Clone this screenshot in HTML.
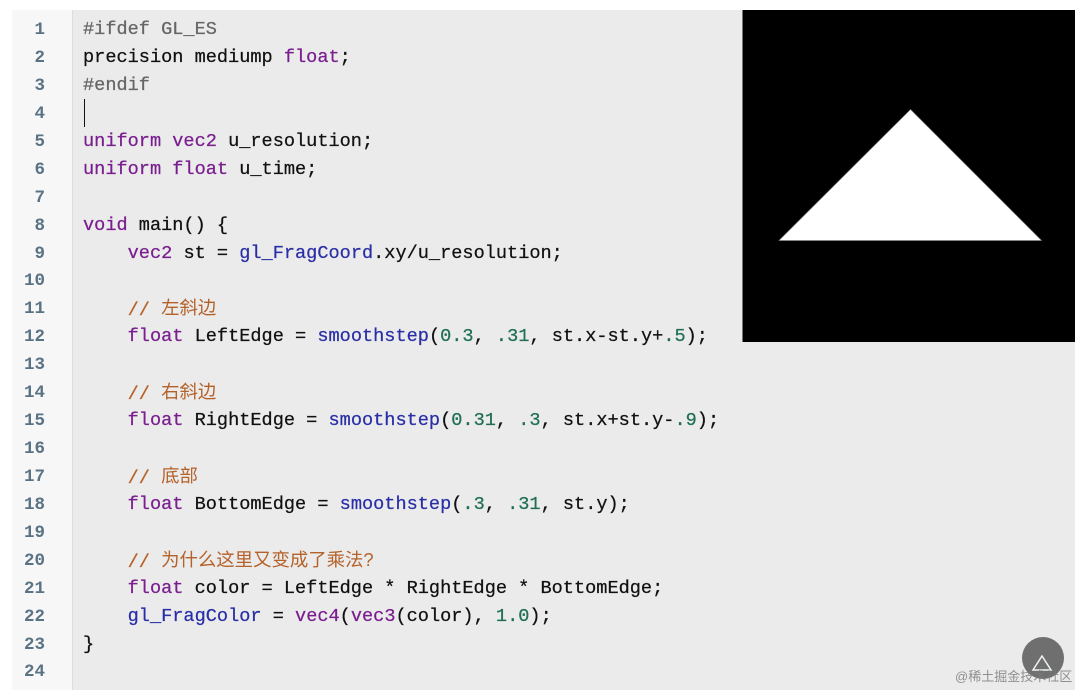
<!DOCTYPE html>
<html><head><meta charset="utf-8">
<style>
html,body{margin:0;padding:0;background:#fff}
#p{position:relative;width:1080px;height:700px;overflow:hidden;background:#fff}
#bg{position:absolute;left:12px;top:10px;width:1063px;height:680px;background:#ebebeb}
#g{position:absolute;left:12px;top:10px;width:60px;height:680px;background:#f7f7f7;border-right:1px solid #ddd;box-sizing:content-box}
.n,.l{position:absolute;margin-top:1px;font-family:"Liberation Mono","Noto Sans CJK SC",monospace;font-size:18.6px;line-height:28px;height:28px;white-space:pre;-webkit-text-stroke:.25px currentColor}
.n{left:12px;width:33px;text-align:right;color:#5a7384;font-weight:bold;font-size:17.5px;font-family:"Liberation Mono",monospace;-webkit-text-stroke:0}
.l{left:83px;color:#111}
.k{color:#7a1f8f}.f{color:#2a2fa6}.m{color:#1f6f55}.c{color:#b5622a}.d{color:#666}
.z{position:relative;top:-1px;font-family:"Liberation Sans","Noto Sans CJK SC",sans-serif;font-size:18.4px;-webkit-text-stroke:0}
#cur{position:absolute;left:84px;top:99px;width:1px;height:28px;background:#111}
svg{position:absolute;left:0;top:0}
#wm{position:absolute;left:955px;top:666px;font:13px "Liberation Sans","Noto Sans CJK SC",sans-serif;color:rgba(120,120,120,.8);white-space:nowrap}
</style></head><body><div id="p">
<div id="bg"></div><div id="g"></div>
<div class="n" style="top:15px">1</div>
<div class="n" style="top:43px">2</div>
<div class="n" style="top:71px">3</div>
<div class="n" style="top:99px">4</div>
<div class="n" style="top:127px">5</div>
<div class="n" style="top:155px">6</div>
<div class="n" style="top:183px">7</div>
<div class="n" style="top:211px">8</div>
<div class="n" style="top:239px">9</div>
<div class="n" style="top:266px">10</div>
<div class="n" style="top:294px">11</div>
<div class="n" style="top:322px">12</div>
<div class="n" style="top:350px">13</div>
<div class="n" style="top:378px">14</div>
<div class="n" style="top:406px">15</div>
<div class="n" style="top:434px">16</div>
<div class="n" style="top:462px">17</div>
<div class="n" style="top:490px">18</div>
<div class="n" style="top:518px">19</div>
<div class="n" style="top:546px">20</div>
<div class="n" style="top:574px">21</div>
<div class="n" style="top:602px">22</div>
<div class="n" style="top:630px">23</div>
<div class="n" style="top:657px">24</div>
<div class="l d" style="top:15px">#ifdef GL_ES</div>
<div class="l" style="top:43px">precision mediump <span class="k">float</span>;</div>
<div class="l d" style="top:71px">#endif</div>
<div id="cur"></div>
<div class="l" style="top:127px"><span class="k">uniform vec2</span> u_resolution;</div>
<div class="l" style="top:155px"><span class="k">uniform float</span> u_time;</div>
<div class="l" style="top:211px"><span class="k">void</span> main() {</div>
<div class="l" style="top:239px">    <span class="k">vec2</span> st = <span class="f">gl_FragCoord</span>.xy/u_resolution;</div>
<div class="l c" style="top:294px">    // <span class="z">左斜边</span></div>
<div class="l" style="top:322px">    <span class="k">float</span> LeftEdge = <span class="f">smoothstep</span>(<span class="m">0.3</span>, <span class="m">.31</span>, st.x-st.y+<span class="m">.5</span>);</div>
<div class="l c" style="top:378px">    // <span class="z">右斜边</span></div>
<div class="l" style="top:406px">    <span class="k">float</span> RightEdge = <span class="f">smoothstep</span>(<span class="m">0.31</span>, <span class="m">.3</span>, st.x+st.y-<span class="m">.9</span>);</div>
<div class="l c" style="top:462px">    // <span class="z">底部</span></div>
<div class="l" style="top:490px">    <span class="k">float</span> BottomEdge = <span class="f">smoothstep</span>(<span class="m">.3</span>, <span class="m">.31</span>, st.y);</div>
<div class="l c" style="top:546px">    // <span class="z">为什么这里又变成了乘法?</span></div>
<div class="l" style="top:574px">    <span class="k">float</span> color = LeftEdge * RightEdge * BottomEdge;</div>
<div class="l" style="top:602px">    <span class="f">gl_FragColor</span> = <span class="k">vec4</span>(<span class="k">vec3</span>(color), <span class="m">1.0</span>);</div>
<div class="l" style="top:630px">}</div>
<svg width="1080" height="700" viewBox="0 0 1080 700">
<rect x="742.500" y="10" width="332.500" height="332" fill="#000"/>
<polygon points="910.500,109.500 1041.500,240.500 779,240.500" fill="#fff" stroke="#888" stroke-width=".6"/>
<circle cx="1043" cy="658" r="21" fill="#6f6f6f"/>
<polygon points="1042,656 1051,670 1033,670" fill="none" stroke="#eef4f2" stroke-width="1.500"/>
</svg>
<div id="wm">@稀土掘金技术社区</div>
</div></body></html>
